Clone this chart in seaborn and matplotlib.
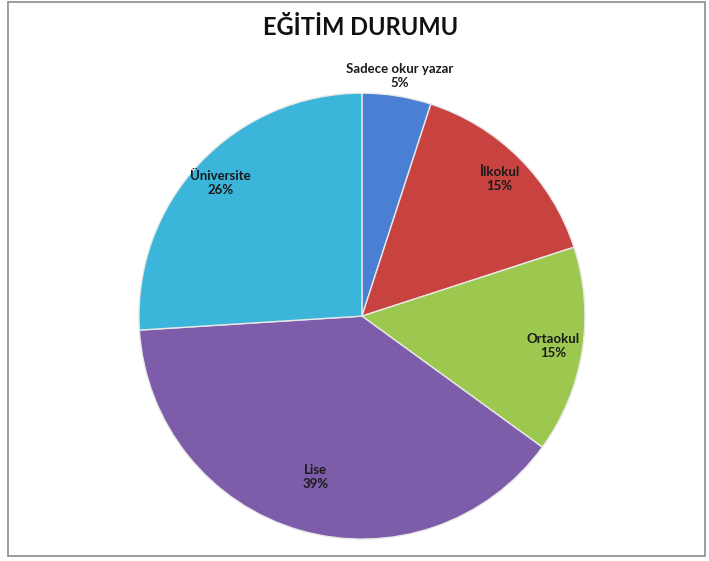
import numpy as np
import matplotlib
matplotlib.use("Agg")
import matplotlib.pyplot as plt
from matplotlib.patches import Rectangle
import seaborn as sns

# veriler
kategoriler = ["Sadece okur yazar", "İlkokul", "Ortaokul", "Lise", "Üniversite"]
yuzdeler = [5, 15, 15, 39, 26]
renkler = ["#4a7fd4", "#c8433f", "#9dc84f", "#7d5ca9", "#3bb5da"]

sns.set_theme(style="white")
plt.rcParams['font.family'] = ['Lato', 'DejaVu Sans']

fig = plt.figure(figsize=(7.09, 5.61), dpi=100)
ax = fig.add_axes([0.196, 0.039, 0.629, 0.795])

wedges, _ = ax.pie(
    yuzdeler,
    colors=renkler,
    startangle=90,
    counterclock=False,
    radius=1.0,
    wedgeprops=dict(edgecolor="#e8e8e8", linewidth=1.0),
)

# etiket uzakliklari (merkeze gore)
mesafeler = [1.09, 0.87, 0.87, 0.75, 0.87]
for w, ad, p, d in zip(wedges, kategoriler, yuzdeler, mesafeler):
    aci = np.deg2rad((w.theta1 + w.theta2) / 2)
    x, y = d * np.cos(aci), d * np.sin(aci)
    ax.text(x, y, f"{ad}\n{p}%", ha="center", va="center",
            fontsize=9.5, fontweight="bold", color="#1a1a1a", linespacing=1.2)

ax.set_xlim(-1.0, 1.0)
ax.set_ylim(-1.0, 1.0)
ax.set_aspect("equal")
ax.axis("off")

fig.text(0.509, 0.951, "EĞİTİM DURUMU", ha="center", va="center",
         fontsize=17, fontweight="bold", color="#111111")

# cerceve
fig.add_artist(Rectangle((0.011, 0.009), 0.984, 0.988, transform=fig.transFigure,
                         fill=False, edgecolor="#8c8c8c", linewidth=1.2))

fig.savefig("out.png", dpi=100)
plt.close()
